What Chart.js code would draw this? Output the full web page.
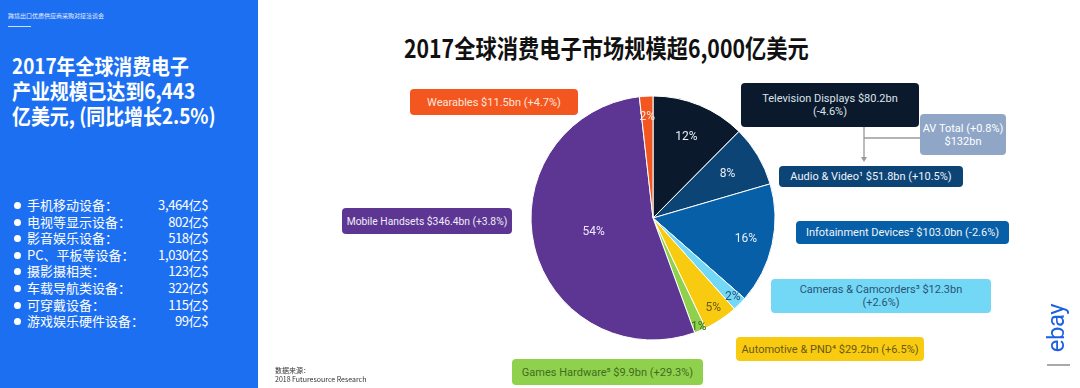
<!DOCTYPE html>
<html>
<head>
<meta charset="utf-8">
<script src="https://cdn.jsdelivr.net/npm/chart.js@4.4.0/dist/chart.umd.min.js"></script>
<style>
    body { margin: 0; width: 1080px; height: 388px; background: #fff; position: relative; overflow: hidden;
        font-family: Roboto, "Noto Sans CJK SC", sans-serif; }
    #side { position: absolute; left: 0; top: 0; width: 258px; height: 388px; background: #1d6ff2; color: #fff; }
    #side .meet { position: absolute; left: 8px; top: 11px; font-size: 6px; font-family: "Noto Sans CJK SC"; opacity: .9; }
    #side .rule { position: absolute; left: 8px; top: 26px; width: 23px; height: 1px; background: #cfe0ff; }
    #side .head { position: absolute; left: 12px; top: 53px; font: bold 21px/25px "Noto Sans CJK SC", sans-serif;
        transform: scaleX(0.9); transform-origin: left top; white-space: nowrap; }
    #list { position: absolute; left: 0; top: 197px; }
    #list .row { position: relative; height: 16.6px; font: 13px/16px "Noto Sans CJK SC", sans-serif; white-space: nowrap; }
    #list .dot { position: absolute; left: 14px; top: 5px; width: 7px; height: 7px; border-radius: 50%; background: #fff; }
    #list .name { position: absolute; left: 27px; }
    #list .val { position: absolute; right: -208px; width: 80px; text-align: right; letter-spacing: -0.4px; }
    #title { position: absolute; left: 404px; top: 32px; font: bold 25px/30px "Noto Sans CJK SC", sans-serif; color: #111;
        transform: scaleX(0.85); transform-origin: left top; white-space: nowrap; }
    #pieBox { position: absolute; left: 523px; top: 88px; width: 260px; height: 260px; }
    .tag { position: absolute; border-radius: 4px; font-size: 11px; line-height: 13px; text-align: center;
        display: flex; align-items: center; justify-content: center; white-space: pre; }
    #src { position: absolute; left: 275px; top: 366px; font: 7px/9px "Noto Sans CJK SC", sans-serif; color: #333; }
    #ebay { position: absolute; left: 1030px; top: 316px; width: 52px; font: 24px/24px Roboto, sans-serif; color: #1b5fe3;
        transform: rotate(-90deg); transform-origin: center; letter-spacing: -0.5px; text-align: center; }
    #ebayRule { position: absolute; left: 1047px; top: 364px; width: 23px; height: 2px; background: #a9a9a9; }
</style>
</head>
<body>
<div id="side">
    <div class="meet">跨境出口优质供应商采购对接洽谈会</div>
    <div class="rule"></div>
    <div class="head">2017年全球消费电子<br>产业规模已达到6,443<br>亿美元, (同比增长2.5%)</div>
    <div id="list"></div>
</div>
<div id="title">2017全球消费电子市场规模超6,000亿美元</div>
<div id="pieBox"><canvas id="pie"></canvas></div>
<svg style="position:absolute;left:0;top:0" width="1080" height="388">
    <line x1="864" y1="124" x2="864" y2="159" stroke="#9a9a9a" stroke-width="1.3"/>
    <line x1="864" y1="138" x2="921" y2="138" stroke="#9a9a9a" stroke-width="1.3"/>
    <polygon points="861,126 867,126 864,121" fill="#9a9a9a"/>
    <polygon points="861,157 867,157 864,162" fill="#9a9a9a"/>
</svg>
<div id="tags"></div>
<div id="src">数据来源：<br>2018 Futuresource Research</div>
<div id="ebay">ebay</div>
<div id="ebayRule"></div>

<script>
// left panel list (亿$)
const cnNames = ['手机移动设备：', '电视等显示设备：', '影音娱乐设备：', 'PC、平板等设备：', '摄影摄相类：', '车载导航类设备：', '可穿戴设备：', '游戏娱乐硬件设备：'];
const cnValues = ['3,464', '802', '518', '1,030', '123', '322', '115', '99'];

// pie segments, clockwise from 12 o'clock ($bn)
const segNames = ['Television Displays', 'Audio & Video¹', 'Infotainment Devices²', 'Cameras & Camcorders³',
    'Automotive & PND⁴', 'Games Hardware⁵', 'Mobile Handsets', 'Wearables'];
const segValues = [80.2, 51.8, 103.0, 12.3, 29.2, 9.9, 346.4, 11.5];
const segGrowth = ['-4.6%', '+10.5%', '-2.6%', '+2.6%', '+6.5%', '+29.3%', '+3.8%', '+4.7%'];
const pctLabels = ['12%', '8%', '16%', '2%', '5%', '1%', '54%', '2%'];
const avTotal = { value: 132, growth: '+0.8%' };

const segColors = ['#0a192b', '#0c4476', '#075fa7', '#72d8f6', '#f8cb10', '#8fd14c', '#5d3694', '#f4561f'];
const pctColors = ['#e8eef5', '#e8eef5', '#e8eef5', '#2c5378', '#6b5a17', '#3f6d1f', '#efe8f8', '#fde3d8'];
const pctRadius = [0.72, 0.71, 0.78, 0.92, 0.89, 0.97, 0.5, 0.83];

// tag boxes: [left, top, width, height, two-line, text colour, font size]
const tagBoxes = [
    [741, 83, 178, 44, true, '#dde3ea', 11],
    [779, 166, 184, 21, false, '#eef3f9', 11],
    [796, 221, 213, 23, false, '#eef3f9', 11],
    [771, 279, 220, 34, true, '#2d5277', 11],
    [736, 337, 188, 24, false, '#6a5716', 11],
    [512, 359, 191, 26, false, '#3f6d1f', 11],
    [342, 208, 170, 26, false, '#f1ecf8', 10.3],
    [410, 89, 168, 26, false, '#ffe6dc', 11]
];

const list = document.getElementById('list');
cnNames.forEach((n, i) => {
    const row = document.createElement('div');
    row.className = 'row';
    row.innerHTML = '<span class="dot"></span><span class="name">' + n + '</span><span class="val">' + cnValues[i] + '亿$</span>';
    list.appendChild(row);
});

const tags = document.getElementById('tags');
segNames.forEach((n, i) => {
    const [x, y, w, h, wrap, color, fs] = tagBoxes[i];
    const d = document.createElement('div');
    d.className = 'tag';
    Object.assign(d.style, { left: x + 'px', top: y + 'px', width: w + 'px', height: h + 'px',
        background: segColors[i], color, fontSize: fs + 'px' });
    d.textContent = n + ' $' + segValues[i].toFixed(1) + 'bn' + (wrap ? '\n' : ' ') + '(' + segGrowth[i] + ')';
    tags.appendChild(d);
});
const av = document.createElement('div');
av.className = 'tag';
Object.assign(av.style, { left: '920px', top: '114px', width: '86px', height: '41px', background: '#8fa6c7', color: '#fff' });
av.textContent = 'AV Total (' + avTotal.growth + ')\n$' + avTotal.value + 'bn';
tags.appendChild(av);

const sliceLabels = {
    id: 'sliceLabels',
    afterDatasetsDraw(chart) {
        const ctx = chart.ctx;
        ctx.save();
        ctx.font = '12px Roboto';
        ctx.textAlign = 'center';
        ctx.textBaseline = 'middle';
        chart.getDatasetMeta(0).data.forEach((arc, i) => {
            const mid = (arc.startAngle + arc.endAngle) / 2;
            const r = arc.outerRadius * pctRadius[i];
            ctx.fillStyle = pctColors[i];
            ctx.fillText(pctLabels[i], arc.x + Math.cos(mid) * r, arc.y + Math.sin(mid) * r);
        });
        ctx.restore();
    }
};

new Chart(document.getElementById('pie'), {
    type: 'pie',
    data: {
        labels: segNames,
        datasets: [{
            data: segValues,
            backgroundColor: segColors,
            borderColor: '#ffffff',
            borderWidth: 1
        }]
    },
    options: {
        responsive: true,
        maintainAspectRatio: false,
        animation: false,
        radius: 122,
        layout: { padding: 0 },
        plugins: { legend: { display: false }, tooltip: { enabled: false } }
    },
    plugins: [sliceLabels]
});
</script>
</body>
</html>
